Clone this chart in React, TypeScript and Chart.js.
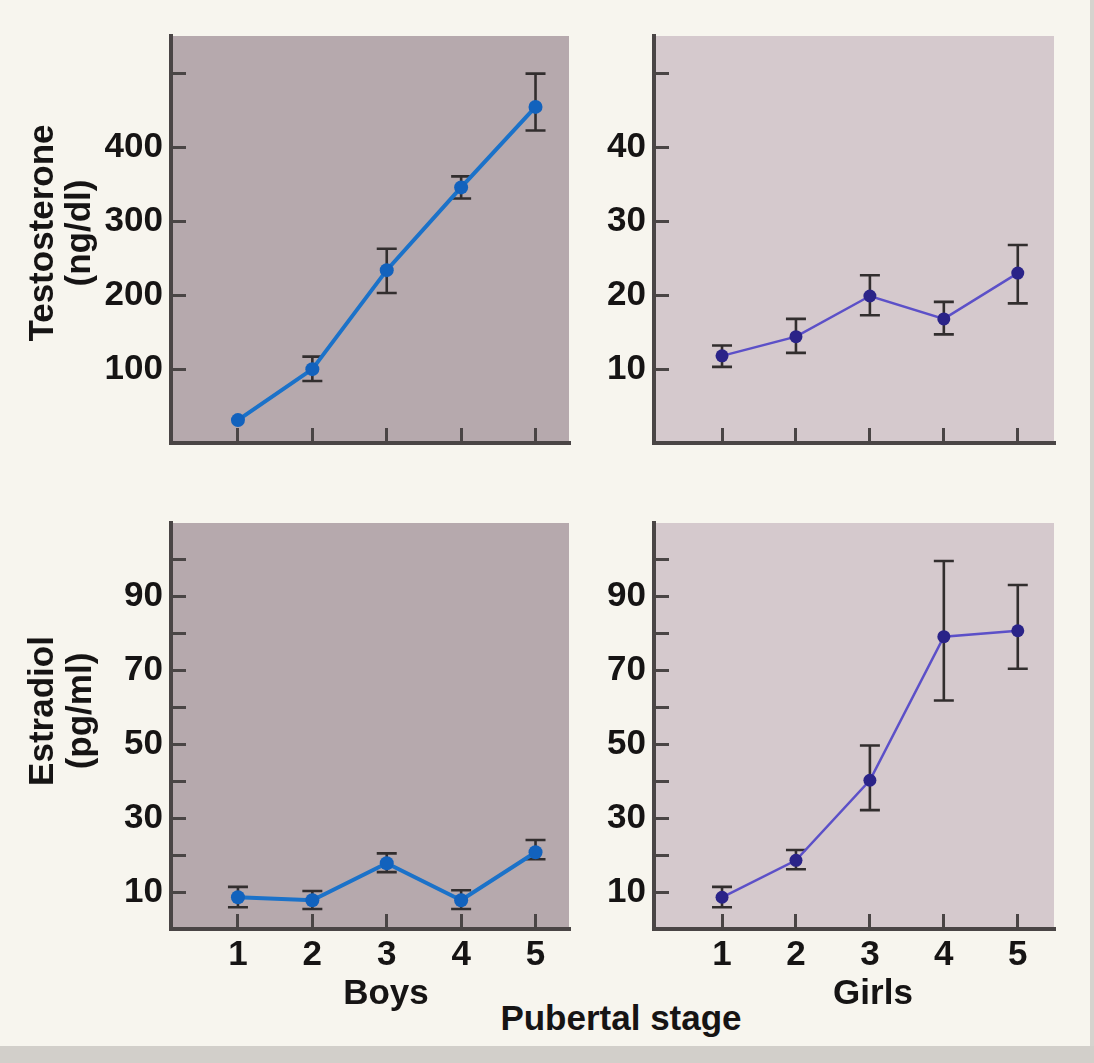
import React, { useEffect, useRef } from 'react';
import { Chart, registerables } from 'chart.js';

Chart.register(...registerables);

// Pubertal stages on the x axis
const stages = [1, 2, 3, 4, 5];
const stageTicks = [1, 2, 3, 4, 5];

// Testosterone (ng/dl), boys
const boysTestosterone = [31, 100, 234, 346, 455];
const boysTestosteroneLow = [null, 84, 203, 331, 423];
const boysTestosteroneHigh = [null, 117, 263, 361, 500];

// Testosterone (ng/dl), girls
const girlsTestosterone = [11.8, 14.4, 19.9, 16.8, 23.0];
const girlsTestosteroneLow = [10.3, 12.2, 17.3, 14.7, 18.9];
const girlsTestosteroneHigh = [13.2, 16.8, 22.7, 19.1, 26.8];

// Estradiol (pg/ml), boys
const boysEstradiol = [8.6, 7.8, 17.8, 7.8, 20.8];
const boysEstradiolLow = [5.9, 5.4, 15.4, 5.4, 18.9];
const boysEstradiolHigh = [11.4, 10.3, 20.5, 10.5, 24.1];

// Estradiol (pg/ml), girls
const girlsEstradiol = [8.6, 18.6, 40.3, 79.2, 80.8];
const girlsEstradiolLow = [5.9, 16.2, 32.2, 61.9, 70.5];
const girlsEstradiolHigh = [11.4, 21.4, 49.7, 99.7, 93.2];

// y tick marks and which of them carry a label
const boysTestosteroneTicks = [100, 200, 300, 400, 500];
const boysTestosteroneLabels = [100, 200, 300, 400];
const girlsTestosteroneTicks = [10, 20, 30, 40, 50];
const girlsTestosteroneLabels = [10, 20, 30, 40];
const estradiolTicks = [10, 20, 30, 40, 50, 60, 70, 80, 90, 100];
const estradiolLabels = [10, 30, 50, 70, 90];

const FONT = '"Liberation Sans", Arial, Helvetica, sans-serif';
const AXIS_COLOR = '#4a4545';
const TEXT_COLOR = '#161414';
const CREAM = '#f7f5ee';

// space around each plot area inside its canvas
const ML = 112;
const MT = 12;
const MR = 12;
const MB = 64;

type PanelProps = {
  left: number;
  top: number;
  width: number;
  height: number;
  yMax: number;
  xMin: number;
  xMax: number;
  yTicks: number[];
  yLabels: number[];
  showXLabels: boolean;
  values: number[];
  low: (number | null)[];
  high: (number | null)[];
  lineColor: string;
  lineWidth: number;
  pointColor: string;
  pointRadius: number;
  background: string;
};

function Panel(p: PanelProps) {
  const ref = useRef<HTMLCanvasElement>(null);
  const W = p.width + ML + MR;
  const H = p.height + MT + MB;

  useEffect(() => {
    const canvas = ref.current;
    if (!canvas) return;

    const panelBackground = {
      id: 'panelBackground',
      beforeDraw(chart: any) {
        const { ctx, chartArea } = chart;
        ctx.save();
        ctx.fillStyle = p.background;
        ctx.fillRect(chartArea.left, chartArea.top, chartArea.right - chartArea.left, chartArea.bottom - chartArea.top);
        ctx.restore();
      },
    };

    const errorBars = {
      id: 'errorBars',
      beforeDatasetsDraw(chart: any) {
        const { ctx, scales } = chart;
        const xs = scales.x;
        const ys = scales.y;
        ctx.save();
        ctx.strokeStyle = '#322e2e';
        ctx.lineWidth = 2.6;
        ctx.lineCap = 'butt';
        stages.forEach((s, i) => {
          const lo = p.low[i];
          const hi = p.high[i];
          if (lo == null || hi == null) return;
          const x = xs.getPixelForValue(s);
          const y1 = ys.getPixelForValue(lo);
          const y2 = ys.getPixelForValue(hi);
          const cap = 10;
          ctx.beginPath();
          ctx.moveTo(x, y1);
          ctx.lineTo(x, y2);
          ctx.moveTo(x - cap, y1);
          ctx.lineTo(x + cap, y1);
          ctx.moveTo(x - cap, y2);
          ctx.lineTo(x + cap, y2);
          ctx.stroke();
        });
        ctx.restore();
      },
    };

    const chart = new Chart(canvas, {
      type: 'line',
      data: {
        datasets: [
          {
            data: stages.map((s, i) => ({ x: s, y: p.values[i] })),
            borderColor: p.lineColor,
            borderWidth: p.lineWidth,
            pointRadius: p.pointRadius,
            pointBackgroundColor: p.pointColor,
            pointBorderWidth: 0,
            tension: 0,
            clip: false as any,
          },
        ],
      },
      options: {
        responsive: false,
        animation: false,
        devicePixelRatio: 1,
        layout: { autoPadding: false, padding: { left: 0, top: MT, right: MR, bottom: 0 } },
        plugins: { legend: { display: false }, tooltip: { enabled: false } },
        scales: {
          x: {
            type: 'linear',
            min: p.xMin,
            max: p.xMax,
            afterBuildTicks: (axis: any) => {
              axis.ticks = stageTicks.map((v) => ({ value: v }));
            },
            afterFit: (axis: any) => {
              axis.height = MB;
              axis.paddingLeft = 0;
              axis.paddingRight = 0;
              axis.paddingTop = 0;
              axis.paddingBottom = 0;
            },
            border: { display: true, color: AXIS_COLOR, width: 4 },
            grid: {
              drawOnChartArea: false,
              drawTicks: true,
              tickLength: -15,
              color: AXIS_COLOR,
              lineWidth: 3,
            },
            ticks: {
              display: p.showXLabels,
              padding: 20,
              color: TEXT_COLOR,
              font: { family: FONT, size: 35, weight: 'bold' },
              maxRotation: 0,
              callback: (v: any) => String(v),
            },
          },
          y: {
            type: 'linear',
            min: 0,
            max: p.yMax,
            afterBuildTicks: (axis: any) => {
              axis.ticks = p.yTicks.map((v) => ({ value: v }));
            },
            afterFit: (axis: any) => {
              axis.width = ML;
              axis.paddingLeft = 0;
              axis.paddingRight = 0;
              axis.paddingTop = 0;
              axis.paddingBottom = 0;
            },
            border: { display: true, color: AXIS_COLOR, width: 4 },
            grid: {
              drawOnChartArea: false,
              drawTicks: true,
              tickLength: -15,
              color: AXIS_COLOR,
              lineWidth: 3,
            },
            ticks: {
              padding: 23,
              color: TEXT_COLOR,
              font: { family: FONT, size: 35, weight: 'bold' },
              callback: (v: any) => (p.yLabels.includes(Number(v)) ? String(v) : ''),
            },
          },
        },
      } as any,
      plugins: [panelBackground, errorBars],
    });
    return () => chart.destroy();
  }, []);

  return (
    <canvas
      ref={ref}
      width={W}
      height={H}
      style={{ position: 'absolute', left: p.left - ML, top: p.top - MT, width: W, height: H }}
    />
  );
}

const textStyle: React.CSSProperties = {
  position: 'absolute',
  fontFamily: FONT,
  fontWeight: 'bold',
  fontSize: 35,
  lineHeight: '35px',
  color: TEXT_COLOR,
  whiteSpace: 'nowrap',
};

function Label(props: { text: string; x: number; y: number; rotate?: boolean }) {
  const transform = props.rotate ? 'translate(-50%, -50%) rotate(-90deg)' : 'translate(-50%, -50%)';
  return <div style={{ ...textStyle, left: props.x, top: props.y, transform }}>{props.text}</div>;
}

const BOYS_BG = '#b6a9ad';
const GIRLS_BG = '#d5c9cd';
const BOYS_LINE = '#1b72c9';
const BOYS_POINT = '#1262bd';
const GIRLS_LINE = '#5c50c8';
const GIRLS_POINT = '#2a2388';

export default function App() {
  return (
    <div
      style={{
        position: 'absolute',
        left: 0,
        top: 0,
        width: 1094,
        height: 1063,
        background: CREAM,
        overflow: 'hidden',
      }}
    >
      <div style={{ position: 'absolute', left: 1090, top: 0, width: 4, height: 1063, background: '#d6d3ce' }} />
      <div style={{ position: 'absolute', left: 0, top: 1046, width: 1094, height: 17, background: '#d2cfca' }} />

      <Panel
        left={171} top={36} width={398} height={407}
        yMax={551} xMin={0.1} xMax={5.45}
        yTicks={boysTestosteroneTicks} yLabels={boysTestosteroneLabels}
        showXLabels={false}
        values={boysTestosterone} low={boysTestosteroneLow} high={boysTestosteroneHigh}
        lineColor={BOYS_LINE} lineWidth={4} pointColor={BOYS_POINT} pointRadius={7} background={BOYS_BG}
      />
      <Panel
        left={654} top={36} width={400} height={407}
        yMax={55.1} xMin={0.08} xMax={5.49}
        yTicks={girlsTestosteroneTicks} yLabels={girlsTestosteroneLabels}
        showXLabels={false}
        values={girlsTestosterone} low={girlsTestosteroneLow} high={girlsTestosteroneHigh}
        lineColor={GIRLS_LINE} lineWidth={2.5} pointColor={GIRLS_POINT} pointRadius={6.5} background={GIRLS_BG}
      />
      <Panel
        left={171} top={523} width={398} height={406}
        yMax={110} xMin={0.1} xMax={5.45}
        yTicks={estradiolTicks} yLabels={estradiolLabels}
        showXLabels={true}
        values={boysEstradiol} low={boysEstradiolLow} high={boysEstradiolHigh}
        lineColor={BOYS_LINE} lineWidth={4} pointColor={BOYS_POINT} pointRadius={7} background={BOYS_BG}
      />
      <Panel
        left={654} top={523} width={400} height={406}
        yMax={110} xMin={0.08} xMax={5.49}
        yTicks={estradiolTicks} yLabels={estradiolLabels}
        showXLabels={true}
        values={girlsEstradiol} low={girlsEstradiolLow} high={girlsEstradiolHigh}
        lineColor={GIRLS_LINE} lineWidth={2.5} pointColor={GIRLS_POINT} pointRadius={6.5} background={GIRLS_BG}
      />

      <Label text="Testosterone" x={40} y={233} rotate />
      <Label text="(ng/dl)" x={77} y={233} rotate />
      <Label text="Estradiol" x={40} y={711} rotate />
      <Label text="(pg/ml)" x={78} y={711} rotate />
      <Label text="Boys" x={386} y={991} />
      <Label text="Girls" x={873} y={991} />
      <Label text="Pubertal stage" x={621} y={1017} />
    </div>
  );
}
